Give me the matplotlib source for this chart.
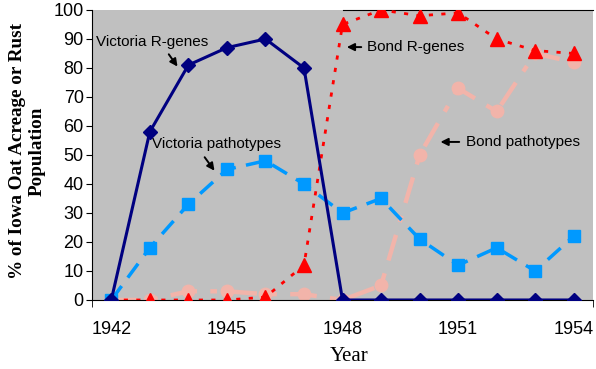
import matplotlib
matplotlib.use("Agg")
import matplotlib.pyplot as plt
import numpy as np

# datos
years = np.arange(1942, 1955)
victoria_r = [0, 58, 81, 87, 90, 80, 0, 0, 0, 0, 0, 0, 0]
victoria_path = [0, 18, 33, 45, 48, 40, 30, 35, 21, 12, 18, 10, 22]
bond_r = [0, 0, 0, 0, 1, 12, 95, 100, 98, 99, 90, 86, 85]
bond_path = [0, 0, 3, 3, 2, 2, 0, 5, 50, 73, 65, 85, 82]
year_ticks = [1942, 1945, 1948, 1951, 1954]

fig = plt.figure(figsize=(5.96, 3.69), dpi=100)
ax = fig.add_axes([0.1544, 0.187, 0.8406, 0.786])
ax.set_facecolor('#C0C0C0')

ax.plot(years, bond_path, color='#F2B4AA', lw=3.2, dashes=(6, 3, 1.5, 3),
        marker='o', ms=9, zorder=2)
ax.plot(years, bond_r, color='#FF0000', lw=2, ls=(0, (1.5, 3)),
        marker='^', ms=10, zorder=3)
ax.plot(years, victoria_path, color='#0099FF', lw=2.5, dashes=(5, 3),
        marker='s', ms=9, zorder=4)
ax.plot(years, victoria_r, color='#000080', lw=2.2,
        marker='D', ms=7, zorder=5)

ax.set_xlim(1941.5, 1954.5)
ax.set_ylim(0, 100)
ax.set_yticks(np.arange(0, 101, 10))
ax.set_xticks(year_ticks)
ax.set_xticks([1941.5, 1954.5], minor=True)
ax.tick_params(axis='x', which='major', length=0, pad=15)
ax.tick_params(axis='x', which='minor', length=5, direction='out')
ax.tick_params(axis='y', length=4, direction='out', pad=2)
for lab in ax.get_xticklabels() + ax.get_yticklabels():
    lab.set_fontfamily('Liberation Sans')
    lab.set_fontsize(13)

ax.spines['right'].set_visible(False)
ax.spines['top'].set_bounds(1948, 1954.5)

# titulos de ejes
fig.text(0.586, 0.033, 'Year', family='Liberation Serif', fontsize=15,
         ha='center', va='center')
fig.text(0.046, 0.59, '% of Iowa Oat Acreage or Rust\nPopulation',
         family='Liberation Serif', fontsize=13.8, fontweight='bold',
         rotation=90, ha='center', va='center', linespacing=1.15)

# anotaciones
arr = dict(arrowstyle='-|>', color='black', lw=1.4, mutation_scale=11)
txt = dict(family='Liberation Sans', fontsize=11)
ax.text(1941.6, 89, 'Victoria R-genes', ha='left', va='center', **txt)
ax.annotate('', xy=(1943.76, 79.7), xytext=(1943.45, 85.5), arrowprops=arr)
ax.text(1943.06, 53.8, 'Victoria pathotypes', ha='left', va='center', **txt)
ax.annotate('', xy=(1944.72, 43.8), xytext=(1944.38, 50), arrowprops=arr)
ax.annotate('Bond R-genes', xy=(1948.04, 87.2), xytext=(1948.63, 87.2),
            va='center', ha='left', arrowprops=arr, **txt)
ax.annotate('', xy=(1950.47, 54.5), xytext=(1951.1, 54.5), arrowprops=arr)
ax.text(1951.2, 54.5, 'Bond pathotypes', va='center', ha='left', **txt)

fig.savefig('out.png', dpi=100)
